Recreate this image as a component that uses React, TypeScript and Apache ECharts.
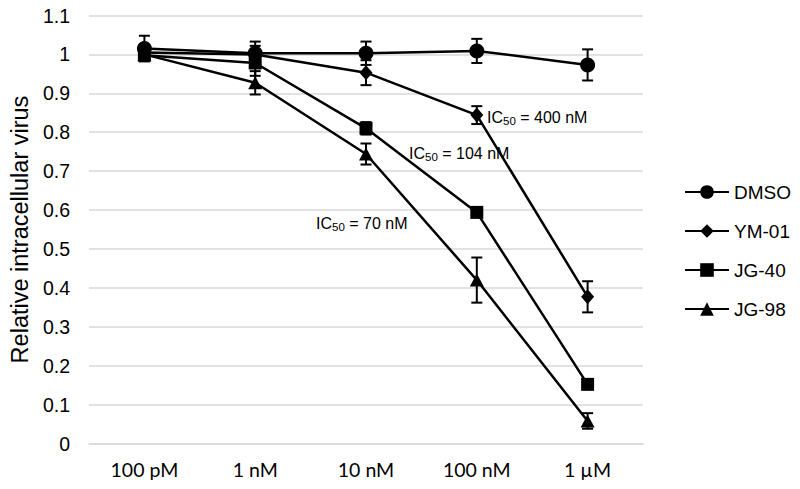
import React, { useEffect, useRef } from "react";
import * as echarts from "echarts";

const categories = ["100 pM", "1 nM", "10 nM", "100 nM", "1 µM"];
const seriesNames = ["DMSO", "YM-01", "JG-40", "JG-98"];
const dmso = [1.015, 1.003, 1.003, 1.009, 0.973];
const dmsoErr = [0.033, 0.03, 0.03, 0.031, 0.04];
const ym01 = [1.005, 1.0, 0.953, 0.844, 0.377];
const ym01Err = [0.012, 0.022, 0.032, 0.023, 0.04];
const jg40 = [0.998, 0.978, 0.81, 0.594, 0.152];
const jg40Err = [0.01, 0.033, 0.016, 0.012, 0.006];
const jg98 = [1.0, 0.927, 0.744, 0.42, 0.058];
const jg98Err = [0.012, 0.03, 0.027, 0.058, 0.02];
const ic50Labels = ["400 nM", "104 nM", "70 nM"];

const symbols = ["circle", "diamond", "rect", "triangle"];
const symbolSizes: any[] = [15, [13, 15], 13, [14, 13]];

export default function App() {
  const ref = useRef<HTMLDivElement>(null);
  useEffect(() => {
    if (!ref.current) return;
    document.body.style.margin = "0";
    const chart = echarts.init(ref.current, null, { renderer: "svg" });
    const values = [dmso, ym01, jg40, jg98];
    const errs = [dmsoErr, ym01Err, jg40Err, jg98Err];

    const lineSeries = values.map((vals, i) => ({
      name: seriesNames[i],
      type: "line",
      data: vals,
      symbol: symbols[i],
      symbolSize: symbolSizes[i],
      lineStyle: { color: "#000", width: 2.5 },
      itemStyle: { color: "#000" },
      z: 3,
    }));

    const errSeries = values.map((vals, i) => ({
      name: seriesNames[i] + " error",
      type: "custom",
      data: vals.map((v, k) => [k, v - errs[i][k], v + errs[i][k]]),
      encode: { x: 0, y: [1, 2] },
      z: 4,
      renderItem: (params: any, api: any) => {
        const x = api.value(0);
        const lo = api.coord([x, api.value(1)]);
        const hi = api.coord([x, api.value(2)]);
        const hw = 5.5;
        const st = { stroke: "#000", lineWidth: 2 };
        return {
          type: "group",
          children: [
            { type: "line", shape: { x1: lo[0], y1: lo[1], x2: hi[0], y2: hi[1] }, style: st },
            { type: "line", shape: { x1: hi[0] - hw, y1: hi[1], x2: hi[0] + hw, y2: hi[1] }, style: st },
            { type: "line", shape: { x1: lo[0] - hw, y1: lo[1], x2: lo[0] + hw, y2: lo[1] }, style: st },
          ],
        };
      },
    }));

    const rich = {
      a: { fontSize: 16, fontFamily: "Liberation Sans", fontWeight: "normal", color: "#000", lineHeight: 20, verticalAlign: "middle" },
      b: { fontSize: 11.5, fontFamily: "Liberation Sans", fontWeight: "normal", color: "#000", lineHeight: 12, verticalAlign: "bottom" },
    };
    const icTitle = (x: number, y: number, label: string) => ({
      text: `{a|IC}{b|50}{a| = ${label}}`,
      left: x,
      top: y - 10,
      padding: 0,
      textStyle: { rich, fontSize: 16, fontWeight: "normal", color: "#000" },
    });

    chart.setOption({
      animation: false,
      title: [icTitle(487, 117, ic50Labels[0]), icTitle(409, 153, ic50Labels[1]), icTitle(316, 223, ic50Labels[2])],
      grid: { left: 83, right: 157, top: 15.5, bottom: 45.5 },
      legend: {
        orient: "vertical",
        left: 679,
        top: 177,
        data: seriesNames,
        itemWidth: 44,
        itemHeight: 17,
        itemGap: 19,
        textStyle: { fontFamily: "Liberation Sans", fontSize: 19, color: "#000", lineHeight: 20 },
      },
      xAxis: {
        type: "category",
        data: categories,
        boundaryGap: true,
        axisLine: { lineStyle: { color: "#d9d9d9", width: 1.5 } },
        axisTick: { show: false },
        axisLabel: { fontFamily: "Lato", fontSize: 19.5, color: "#000", margin: 16 },
      },
      yAxis: {
        type: "value",
        min: 0,
        max: 1.1,
        interval: 0.1,
        name: "Relative intracellular virus",
        nameLocation: "middle",
        nameGap: 53,
        nameTextStyle: { fontFamily: "Liberation Sans", fontSize: 23.5, color: "#000" },
        axisLine: { show: false },
        axisTick: { show: false },
        splitLine: { lineStyle: { color: "#d9d9d9", width: 1.5 } },
        axisLabel: {
          fontFamily: "Liberation Sans",
          fontSize: 19.5,
          color: "#000",
          margin: 19,
          formatter: (v: number) => String(+v.toFixed(1)),
        },
      },
      series: [...lineSeries, ...errSeries],
    });
    return () => chart.dispose();
  }, []);
  return <div ref={ref} style={{ width: 800, height: 489 }} />;
}
